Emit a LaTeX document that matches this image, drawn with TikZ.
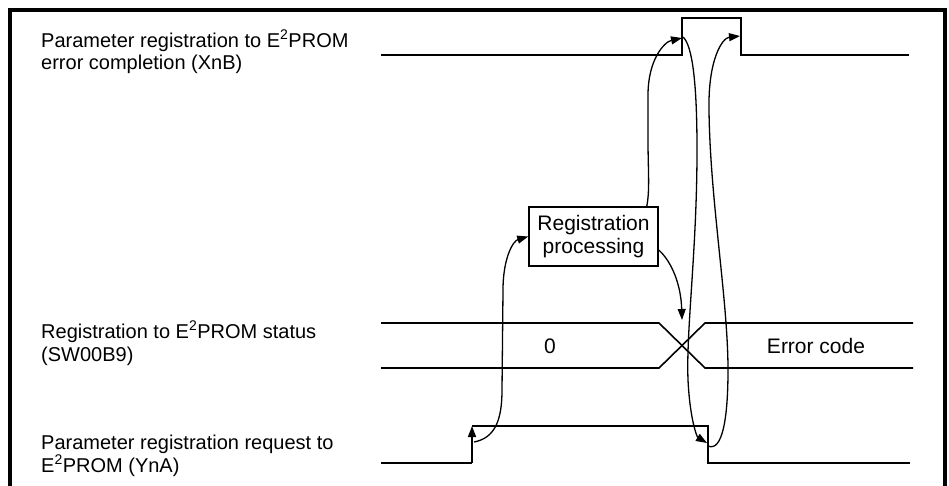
\documentclass[tikz,border=0pt]{standalone}
\usepackage{fontspec}
\setmainfont{Liberation Sans}
\usetikzlibrary{arrows.meta}
\begin{document}
\begin{tikzpicture}[x=1pt,y=-1pt,
  every node/.style={font=\fontsize{21}{22.5}\selectfont, inner sep=0pt},
  wave/.style={line width=1.6pt, line join=miter},
  conn/.style={line width=1.3pt},
  arr/.style={conn,-{Triangle[length=11pt,width=8pt]}},
  lbl/.style={anchor=base west, align=left, font=\fontsize{20}{22.5}\selectfont},
  frame/.style={line width=4.5pt},
  procbox/.style={draw, line width=1.5pt, minimum width=129pt, minimum height=59pt, align=center}]
\useasboundingbox (0,0) rectangle (949,486);
% frame
\draw[frame] (10,495) -- (10,10) -- (945,10) -- (945,495);
% labels (base anchor = baseline of last line)
\node[lbl] (lA) at (41,70) {Parameter registration to E\textsuperscript{2}PROM\\error completion (XnB)};
\node[lbl] (lB) at (41,361) {Registration to E\textsuperscript{2}PROM status\\(SW00B9)};
\node[lbl] (lC) at (41,472) {Parameter registration request to\\E\textsuperscript{2}PROM (YnA)};
% XnB
\coordinate (xa) at (381,55);
\coordinate (xr0) at (682,55);
\coordinate (xr1) at (682,18);
\coordinate (xf1) at (741,18);
\coordinate (xf0) at (741,55);
\coordinate (xe) at (909,55);
\draw[wave] (xa) -- (xr0) -- (xr1) -- (xf1) -- (xf0) -- (xe);
% SW00B9
\coordinate (su0) at (381,323);
\coordinate (sl0) at (381,368);
\coordinate (su1) at (659,323);
\coordinate (sl1) at (659,368);
\coordinate (su2) at (705,323);
\coordinate (sl2) at (705,368);
\coordinate (su3) at (913,323);
\coordinate (sl3) at (913,368);
\draw[wave] (su0) -- (su1) -- (sl2) -- (sl3);
\draw[wave] (sl0) -- (sl1) -- (su2) -- (su3);
\node (v0) at (550,346) {0};
\node (verr) at (816,346) {Error code};
% YnA
\coordinate (ya) at (381,463);
\coordinate (yr0) at (472,463);
\coordinate (yr1) at (472,426);
\coordinate (yf1) at (708,426);
\coordinate (yf0) at (708,463);
\coordinate (ye) at (910,463);
\draw[wave] (ya) -- (yr0);
\draw[wave,-{Triangle[length=11pt,width=8pt]}] (yr0) -- (yr1);
\draw[wave] (yr1) -- (yf1) -- (yf0) -- (ye);
% box
\node[procbox] (box) at (593.5,236.5) {Registration\\processing};
% connectors
\coordinate (c1s) at (474,442);
\draw[arr] (c1s) .. controls (495,438) and (502,420) .. (502,390) -- (503,290) .. controls (503,258) and (513,241) .. (box.west);
\coordinate (xtip) at (682,38);
\draw[arr] ([xshift=-12pt]box.north east) .. controls (650,190) and (648,170) .. (648,140) -- (648,95) .. controls (648,60) and (664,42) .. (xtip);
\coordinate (cross) at (682,320);
\draw[arr] ([yshift=-13.5pt]box.east) .. controls (672,262) and (681,285) .. (cross);
\coordinate (c4s) at (683,37);
\coordinate (yftip) at (707,443);
\draw[arr] (c4s) .. controls (692,45) and (697,80) .. (697,150) .. controls (697,250) and (686,330) .. (688,380) .. controls (690,420) and (697,437) .. (yftip);
\coordinate (c5s) at (708,446);
\coordinate (xftip) at (740,36);
\draw[arr] (c5s) .. controls (722,452) and (728,420) .. (728,370) .. controls (728,300) and (710,200) .. (709,110) .. controls (708,60) and (722,38) .. (xftip);
\end{tikzpicture}
\end{document}
